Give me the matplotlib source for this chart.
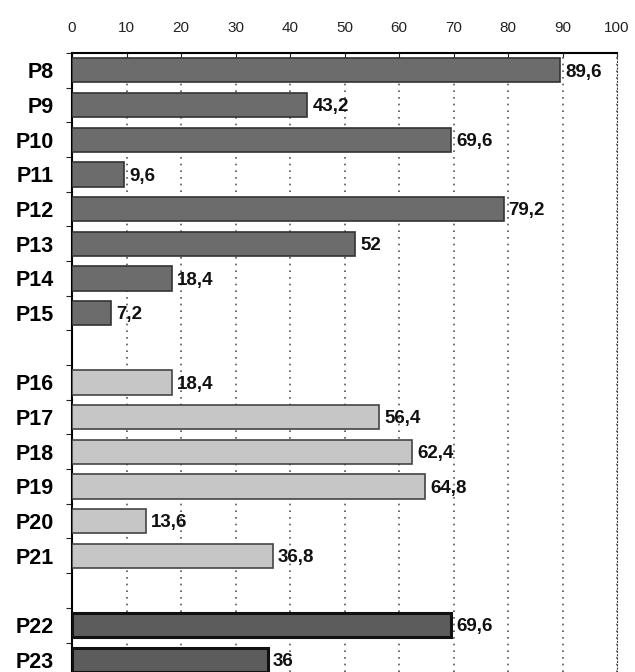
import matplotlib
matplotlib.use('Agg')
import matplotlib.pyplot as plt
import numpy as np

# data (None = empty separator row)
LABELS = ['P8', 'P9', 'P10', 'P11', 'P12', 'P13', 'P14', 'P15', '',
          'P16', 'P17', 'P18', 'P19', 'P20', 'P21', '',
          'P22', 'P23']
VALUES = [89.6, 43.2, 69.6, 9.6, 79.2, 52, 18.4, 7.2, None,
          18.4, 56.4, 62.4, 64.8, 13.6, 36.8, None,
          69.6, 36]
GROUP = [0, 0, 0, 0, 0, 0, 0, 0, None,
         1, 1, 1, 1, 1, 1, None,
         2, 2]
VALUE_TEXT = ['89,6', '43,2', '69,6', '9,6', '79,2', '52', '18,4', '7,2', '',
              '18,4', '56,4', '62,4', '64,8', '13,6', '36,8', '',
              '69,6', '36']
X_TICKS = [0, 10, 20, 30, 40, 50, 60, 70, 80, 90, 100]

FACE = {0: '#6c6c6c', 1: '#c6c6c6', 2: '#5c5c5c'}
EDGE = {0: '#333333', 1: '#444444', 2: '#111111'}
LW = {0: 1.2, 1: 1.2, 2: 2.2}

plt.rcParams['font.family'] = ['Liberation Sans', 'DejaVu Sans']

fig = plt.figure(figsize=(6.35, 6.72), dpi=100)
ax = fig.add_axes([72 / 635, 0.0, 545 / 635, 1 - 53 / 672])

rows = np.arange(len(LABELS))
for i, v in enumerate(VALUES):
    if v is None:
        continue
    g = GROUP[i]
    ax.barh(rows[i], v, height=0.7, color=FACE[g], edgecolor=EDGE[g],
            linewidth=LW[g], zorder=3)
    ax.text(v + 0.9, rows[i] + 0.05, VALUE_TEXT[i], va='center', ha='left',
            fontsize=13.5, fontweight='bold', color='#111111', zorder=4)

ax.set_xlim(0, 100)
ax.set_ylim(17.35, -0.5)

ax.xaxis.tick_top()
ax.set_xticks(X_TICKS)
ax.set_xticklabels([str(t) for t in X_TICKS], fontsize=11)
ax.tick_params(axis='x', direction='in', length=3, pad=13, colors='#222222')

ax.set_yticks(np.arange(-0.5, 17.5, 1.0))
ax.set_yticklabels([])
ax.set_yticks(rows, minor=True)
ax.set_yticklabels(LABELS, minor=True, fontsize=15.5, fontweight='bold')
ax.tick_params(axis='y', which='major', direction='out', length=4, color='#222222')
ax.tick_params(axis='y', which='minor', length=0, pad=13)

ax.grid(axis='x', linestyle=(0, (1, 3)), color='#555555', linewidth=1.2, zorder=0)
ax.set_axisbelow(True)

ax.spines['bottom'].set_visible(False)
ax.spines['right'].set_linestyle((0, (1, 2)))
ax.spines['right'].set_color('#444444')
ax.spines['left'].set_linewidth(1.5)
ax.spines['top'].set_linewidth(1.5)

fig.savefig('out.png', dpi=100)
